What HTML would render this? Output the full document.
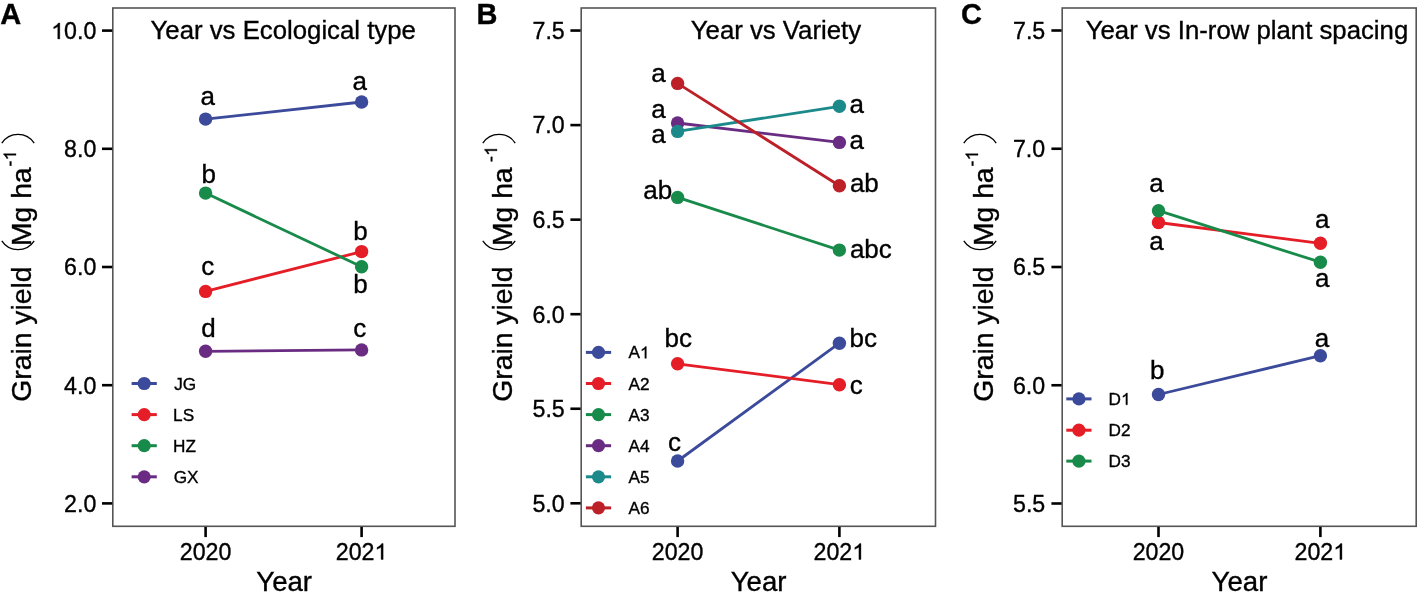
<!DOCTYPE html>
<html><head><meta charset="utf-8"><style>
html,body{margin:0;padding:0;background:#fff;overflow:hidden}
svg{display:block;will-change:transform}
text{stroke:#000;stroke-width:0.35px}
</style></head><body>
<svg width="1417" height="592" viewBox="0 0 1417 592">
<rect width="1417" height="592" fill="#fff"/>
<g font-family="Liberation Sans, sans-serif" fill="#000">
<text x="0.18" y="23.50" font-size="29.0" font-weight="bold">A</text>
<text x="476.56" y="23.50" font-size="29.0" font-weight="bold">B</text>
<text x="961.11" y="24.20" font-size="29.0" font-weight="bold">C</text>
<rect x="112.80" y="8.00" width="342.20" height="518.30" fill="none" stroke="#555" stroke-width="1.6"/>
<line x1="102.00" y1="30.60" x2="112.20" y2="30.60" stroke="#000" stroke-width="2.6"/>
<path transform="translate(51.15,38.90) scale(0.011328,-0.011328)" d="M763 0H583V1102Q518 1042 412 983Q307 924 223 894V1061Q374 1129 487 1226Q600 1323 647 1409H763Z" fill="#000" stroke="#000" stroke-width="30.9"/>
<text x="64.06" y="38.90" font-size="23.2">0.0</text>
<line x1="102.00" y1="148.80" x2="112.20" y2="148.80" stroke="#000" stroke-width="2.6"/>
<text x="64.06" y="157.10" font-size="23.2">8.0</text>
<line x1="102.00" y1="267.00" x2="112.20" y2="267.00" stroke="#000" stroke-width="2.6"/>
<text x="64.06" y="275.30" font-size="23.2">6.0</text>
<line x1="102.00" y1="385.20" x2="112.20" y2="385.20" stroke="#000" stroke-width="2.6"/>
<text x="64.06" y="393.50" font-size="23.2">4.0</text>
<line x1="102.00" y1="503.40" x2="112.20" y2="503.40" stroke="#000" stroke-width="2.6"/>
<text x="64.06" y="511.70" font-size="23.2">2.0</text>
<line x1="205.60" y1="526.90" x2="205.60" y2="537.10" stroke="#000" stroke-width="2.6"/>
<text x="179.79" y="559.50" font-size="23.2">2020</text>
<line x1="361.60" y1="526.90" x2="361.60" y2="537.10" stroke="#000" stroke-width="2.6"/>
<text x="335.79" y="559.50" font-size="23.2">202</text>
<path transform="translate(374.50,559.50) scale(0.011328,-0.011328)" d="M763 0H583V1102Q518 1042 412 983Q307 924 223 894V1061Q374 1129 487 1226Q600 1323 647 1409H763Z" fill="#000" stroke="#000" stroke-width="30.9"/>
<text x="256.28" y="591.20" font-size="27.6">Year</text>
<text x="150.57" y="38.90" font-size="25.75">Year vs Ecological type</text>
<g transform="translate(31.30,400.30) rotate(-90)">
<text x="-1.42" y="0" font-size="28.3">Grain yield</text>
<text x="154.28" y="0" font-size="28.3">Mg ha</text>
<text x="233.90" y="-15.30" font-size="18">-</text>
<path transform="translate(239.89,-15.30) scale(0.008789,-0.008789)" d="M763 0H583V1102Q518 1042 412 983Q307 924 223 894V1061Q374 1129 487 1226Q600 1323 647 1409H763Z" fill="#000" stroke="#000" stroke-width="39.8"/>
</g>
<path d="M1.80 240.80 A19.3 19.3 0 0 0 34.20 240.80" fill="none" stroke="#000" stroke-width="1.3"/>
<path d="M1.80 143.10 A19.3 19.3 0 0 1 34.20 143.10" fill="none" stroke="#000" stroke-width="1.3"/>
<line x1="205.6" y1="119.1" x2="361.6" y2="102.0" stroke="#3b4a9a" stroke-width="2.8"/>
<circle cx="205.6" cy="119.1" r="6.7" fill="#3b4a9a"/><circle cx="361.6" cy="102.0" r="6.7" fill="#3b4a9a"/>
<line x1="205.6" y1="291.4" x2="361.6" y2="251.6" stroke="#e41d26" stroke-width="2.8"/>
<circle cx="205.6" cy="291.4" r="6.7" fill="#e41d26"/><circle cx="361.6" cy="251.6" r="6.7" fill="#e41d26"/>
<line x1="205.6" y1="193.1" x2="361.6" y2="266.7" stroke="#188a4a" stroke-width="2.8"/>
<circle cx="205.6" cy="193.1" r="6.7" fill="#188a4a"/><circle cx="361.6" cy="266.7" r="6.7" fill="#188a4a"/>
<line x1="205.6" y1="351.3" x2="361.6" y2="349.9" stroke="#6a2c82" stroke-width="2.8"/>
<circle cx="205.6" cy="351.3" r="6.7" fill="#6a2c82"/><circle cx="361.6" cy="349.9" r="6.7" fill="#6a2c82"/>
<text x="200.52" y="104.60" font-size="26.0">a</text>
<text x="352.62" y="90.20" font-size="26.0">a</text>
<text x="201.38" y="182.50" font-size="26.0">b</text>
<text x="201.29" y="275.20" font-size="26.0">c</text>
<text x="353.18" y="239.50" font-size="26.0">b</text>
<text x="353.18" y="293.10" font-size="26.0">b</text>
<text x="201.16" y="337.00" font-size="26.0">d</text>
<text x="353.29" y="337.20" font-size="26.0">c</text>
<line x1="131.60" y1="383.50" x2="156.80" y2="383.50" stroke="#3b4a9a" stroke-width="3"/>
<circle cx="144.20" cy="383.50" r="6.6" fill="#3b4a9a"/>
<text x="174.23" y="389.50" font-size="17.2">JG</text>
<line x1="131.60" y1="414.60" x2="156.80" y2="414.60" stroke="#e41d26" stroke-width="3"/>
<circle cx="144.20" cy="414.60" r="6.6" fill="#e41d26"/>
<text x="173.09" y="420.60" font-size="17.2">LS</text>
<line x1="131.60" y1="445.70" x2="156.80" y2="445.70" stroke="#188a4a" stroke-width="3"/>
<circle cx="144.20" cy="445.70" r="6.6" fill="#188a4a"/>
<text x="173.09" y="451.62" font-size="17.2">HZ</text>
<line x1="131.60" y1="476.80" x2="156.80" y2="476.80" stroke="#6a2c82" stroke-width="3"/>
<circle cx="144.20" cy="476.80" r="6.6" fill="#6a2c82"/>
<text x="173.63" y="482.80" font-size="17.2">GX</text>
<rect x="581.20" y="8.00" width="354.30" height="518.30" fill="none" stroke="#555" stroke-width="1.6"/>
<line x1="570.40" y1="30.55" x2="580.60" y2="30.55" stroke="#000" stroke-width="2.6"/>
<text x="532.52" y="38.73" font-size="23.2">7.5</text>
<line x1="570.40" y1="125.10" x2="580.60" y2="125.10" stroke="#000" stroke-width="2.6"/>
<text x="532.46" y="133.40" font-size="23.2">7.0</text>
<line x1="570.40" y1="219.65" x2="580.60" y2="219.65" stroke="#000" stroke-width="2.6"/>
<text x="532.52" y="227.95" font-size="23.2">6.5</text>
<line x1="570.40" y1="314.20" x2="580.60" y2="314.20" stroke="#000" stroke-width="2.6"/>
<text x="532.46" y="322.50" font-size="23.2">6.0</text>
<line x1="570.40" y1="408.75" x2="580.60" y2="408.75" stroke="#000" stroke-width="2.6"/>
<text x="532.52" y="416.93" font-size="23.2">5.5</text>
<line x1="570.40" y1="503.30" x2="580.60" y2="503.30" stroke="#000" stroke-width="2.6"/>
<text x="532.46" y="511.60" font-size="23.2">5.0</text>
<line x1="677.60" y1="526.90" x2="677.60" y2="537.10" stroke="#000" stroke-width="2.6"/>
<text x="651.79" y="559.50" font-size="23.2">2020</text>
<line x1="839.40" y1="526.90" x2="839.40" y2="537.10" stroke="#000" stroke-width="2.6"/>
<text x="813.59" y="559.50" font-size="23.2">202</text>
<path transform="translate(852.30,559.50) scale(0.011328,-0.011328)" d="M763 0H583V1102Q518 1042 412 983Q307 924 223 894V1061Q374 1129 487 1226Q600 1323 647 1409H763Z" fill="#000" stroke="#000" stroke-width="30.9"/>
<text x="730.73" y="591.20" font-size="27.6">Year</text>
<text x="690.75" y="38.90" font-size="25.75">Year vs Variety</text>
<g transform="translate(512.30,400.30) rotate(-90)">
<text x="-1.42" y="0" font-size="28.3">Grain yield</text>
<text x="154.28" y="0" font-size="28.3">Mg ha</text>
<text x="238.40" y="-15.30" font-size="18">-</text>
<path transform="translate(244.39,-15.30) scale(0.008789,-0.008789)" d="M763 0H583V1102Q518 1042 412 983Q307 924 223 894V1061Q374 1129 487 1226Q600 1323 647 1409H763Z" fill="#000" stroke="#000" stroke-width="39.8"/>
</g>
<path d="M482.80 240.80 A19.3 19.3 0 0 0 515.20 240.80" fill="none" stroke="#000" stroke-width="1.3"/>
<path d="M482.80 143.10 A19.3 19.3 0 0 1 515.20 143.10" fill="none" stroke="#000" stroke-width="1.3"/>
<line x1="677.6" y1="461.0" x2="839.4" y2="343.2" stroke="#3b4a9a" stroke-width="2.8"/>
<circle cx="677.6" cy="461.0" r="6.7" fill="#3b4a9a"/><circle cx="839.4" cy="343.2" r="6.7" fill="#3b4a9a"/>
<line x1="677.6" y1="363.8" x2="839.4" y2="384.7" stroke="#e41d26" stroke-width="2.8"/>
<circle cx="677.6" cy="363.8" r="6.7" fill="#e41d26"/><circle cx="839.4" cy="384.7" r="6.7" fill="#e41d26"/>
<line x1="677.6" y1="197.4" x2="839.4" y2="250.1" stroke="#188a4a" stroke-width="2.8"/>
<circle cx="677.6" cy="197.4" r="6.7" fill="#188a4a"/><circle cx="839.4" cy="250.1" r="6.7" fill="#188a4a"/>
<line x1="677.6" y1="123.0" x2="839.4" y2="142.4" stroke="#6a2c82" stroke-width="2.8"/>
<circle cx="677.6" cy="123.0" r="6.7" fill="#6a2c82"/><circle cx="839.4" cy="142.4" r="6.7" fill="#6a2c82"/>
<line x1="677.6" y1="131.4" x2="839.4" y2="106.3" stroke="#1c8a8a" stroke-width="2.8"/>
<circle cx="677.6" cy="131.4" r="6.7" fill="#1c8a8a"/><circle cx="839.4" cy="106.3" r="6.7" fill="#1c8a8a"/>
<line x1="677.6" y1="83.4" x2="839.4" y2="185.7" stroke="#bc2128" stroke-width="2.8"/>
<circle cx="677.6" cy="83.4" r="6.7" fill="#bc2128"/><circle cx="839.4" cy="185.7" r="6.7" fill="#bc2128"/>
<text x="651.22" y="82.00" font-size="26.0">a</text>
<text x="651.22" y="117.60" font-size="26.0">a</text>
<text x="651.22" y="143.40" font-size="26.0">a</text>
<text x="643.33" y="198.50" font-size="26.0">ab</text>
<text x="664.57" y="346.70" font-size="26.0">bc</text>
<text x="668.09" y="450.80" font-size="26.0">c</text>
<text x="849.50" y="113.20" font-size="26.0">a</text>
<text x="849.50" y="148.70" font-size="26.0">a</text>
<text x="849.90" y="192.00" font-size="26.0">ab</text>
<text x="849.90" y="257.60" font-size="26.0">abc</text>
<text x="849.52" y="347.00" font-size="26.0">bc</text>
<text x="849.70" y="393.50" font-size="26.0">c</text>
<line x1="585.90" y1="352.40" x2="611.10" y2="352.40" stroke="#3b4a9a" stroke-width="3"/>
<circle cx="598.50" cy="352.40" r="6.6" fill="#3b4a9a"/>
<text x="628.47" y="358.32" font-size="17.2">A</text>
<path transform="translate(639.94,358.32) scale(0.008398,-0.008398)" d="M763 0H583V1102Q518 1042 412 983Q307 924 223 894V1061Q374 1129 487 1226Q600 1323 647 1409H763Z" fill="#000" stroke="#000" stroke-width="41.7"/>
<line x1="585.90" y1="383.50" x2="611.10" y2="383.50" stroke="#e41d26" stroke-width="3"/>
<circle cx="598.50" cy="383.50" r="6.6" fill="#e41d26"/>
<text x="628.47" y="389.50" font-size="17.2">A2</text>
<line x1="585.90" y1="414.60" x2="611.10" y2="414.60" stroke="#188a4a" stroke-width="3"/>
<circle cx="598.50" cy="414.60" r="6.6" fill="#188a4a"/>
<text x="628.47" y="420.60" font-size="17.2">A3</text>
<line x1="585.90" y1="445.70" x2="611.10" y2="445.70" stroke="#6a2c82" stroke-width="3"/>
<circle cx="598.50" cy="445.70" r="6.6" fill="#6a2c82"/>
<text x="628.47" y="451.62" font-size="17.2">A4</text>
<line x1="585.90" y1="476.80" x2="611.10" y2="476.80" stroke="#1c8a8a" stroke-width="3"/>
<circle cx="598.50" cy="476.80" r="6.6" fill="#1c8a8a"/>
<text x="628.47" y="482.72" font-size="17.2">A5</text>
<line x1="585.90" y1="507.90" x2="611.10" y2="507.90" stroke="#bc2128" stroke-width="3"/>
<circle cx="598.50" cy="507.90" r="6.6" fill="#bc2128"/>
<text x="628.47" y="513.90" font-size="17.2">A6</text>
<rect x="1062.20" y="8.00" width="354.00" height="518.30" fill="none" stroke="#555" stroke-width="1.6"/>
<line x1="1051.40" y1="30.50" x2="1061.60" y2="30.50" stroke="#000" stroke-width="2.6"/>
<text x="1013.02" y="38.68" font-size="23.2">7.5</text>
<line x1="1051.40" y1="148.75" x2="1061.60" y2="148.75" stroke="#000" stroke-width="2.6"/>
<text x="1012.96" y="157.05" font-size="23.2">7.0</text>
<line x1="1051.40" y1="267.00" x2="1061.60" y2="267.00" stroke="#000" stroke-width="2.6"/>
<text x="1013.02" y="275.30" font-size="23.2">6.5</text>
<line x1="1051.40" y1="385.25" x2="1061.60" y2="385.25" stroke="#000" stroke-width="2.6"/>
<text x="1012.96" y="393.55" font-size="23.2">6.0</text>
<line x1="1051.40" y1="503.50" x2="1061.60" y2="503.50" stroke="#000" stroke-width="2.6"/>
<text x="1013.02" y="511.68" font-size="23.2">5.5</text>
<line x1="1158.50" y1="526.90" x2="1158.50" y2="537.10" stroke="#000" stroke-width="2.6"/>
<text x="1132.69" y="559.50" font-size="23.2">2020</text>
<line x1="1320.40" y1="526.90" x2="1320.40" y2="537.10" stroke="#000" stroke-width="2.6"/>
<text x="1294.59" y="559.50" font-size="23.2">202</text>
<path transform="translate(1333.30,559.50) scale(0.011328,-0.011328)" d="M763 0H583V1102Q518 1042 412 983Q307 924 223 894V1061Q374 1129 487 1226Q600 1323 647 1409H763Z" fill="#000" stroke="#000" stroke-width="30.9"/>
<text x="1211.58" y="591.20" font-size="27.6">Year</text>
<text x="1085.70" y="38.90" font-size="25.75">Year vs In-row plant spacing</text>
<g transform="translate(993.30,400.30) rotate(-90)">
<text x="-1.42" y="0" font-size="28.3">Grain yield</text>
<text x="154.28" y="0" font-size="28.3">Mg ha</text>
<text x="233.90" y="-15.30" font-size="18">-</text>
<path transform="translate(239.89,-15.30) scale(0.008789,-0.008789)" d="M763 0H583V1102Q518 1042 412 983Q307 924 223 894V1061Q374 1129 487 1226Q600 1323 647 1409H763Z" fill="#000" stroke="#000" stroke-width="39.8"/>
</g>
<path d="M963.80 240.80 A19.3 19.3 0 0 0 996.20 240.80" fill="none" stroke="#000" stroke-width="1.3"/>
<path d="M963.80 143.10 A19.3 19.3 0 0 1 996.20 143.10" fill="none" stroke="#000" stroke-width="1.3"/>
<line x1="1158.5" y1="394.5" x2="1320.4" y2="355.7" stroke="#3b4a9a" stroke-width="2.8"/>
<circle cx="1158.5" cy="394.5" r="6.7" fill="#3b4a9a"/><circle cx="1320.4" cy="355.7" r="6.7" fill="#3b4a9a"/>
<line x1="1158.5" y1="222.5" x2="1320.4" y2="243.3" stroke="#e41d26" stroke-width="2.8"/>
<circle cx="1158.5" cy="222.5" r="6.7" fill="#e41d26"/><circle cx="1320.4" cy="243.3" r="6.7" fill="#e41d26"/>
<line x1="1158.5" y1="210.7" x2="1320.4" y2="262.2" stroke="#188a4a" stroke-width="2.8"/>
<circle cx="1158.5" cy="210.7" r="6.7" fill="#188a4a"/><circle cx="1320.4" cy="262.2" r="6.7" fill="#188a4a"/>
<text x="1149.32" y="192.20" font-size="26.0">a</text>
<text x="1149.32" y="249.70" font-size="26.0">a</text>
<text x="1315.02" y="227.60" font-size="26.0">a</text>
<text x="1315.02" y="287.20" font-size="26.0">a</text>
<text x="1150.08" y="379.30" font-size="26.0">b</text>
<text x="1314.72" y="346.70" font-size="26.0">a</text>
<line x1="1066.30" y1="398.90" x2="1091.50" y2="398.90" stroke="#3b4a9a" stroke-width="3"/>
<circle cx="1078.90" cy="398.90" r="6.6" fill="#3b4a9a"/>
<text x="1108.59" y="404.82" font-size="17.2">D</text>
<path transform="translate(1121.01,404.82) scale(0.008398,-0.008398)" d="M763 0H583V1102Q518 1042 412 983Q307 924 223 894V1061Q374 1129 487 1226Q600 1323 647 1409H763Z" fill="#000" stroke="#000" stroke-width="41.7"/>
<line x1="1066.30" y1="430.20" x2="1091.50" y2="430.20" stroke="#e41d26" stroke-width="3"/>
<circle cx="1078.90" cy="430.20" r="6.6" fill="#e41d26"/>
<text x="1108.59" y="436.20" font-size="17.2">D2</text>
<line x1="1066.30" y1="461.10" x2="1091.50" y2="461.10" stroke="#188a4a" stroke-width="3"/>
<circle cx="1078.90" cy="461.10" r="6.6" fill="#188a4a"/>
<text x="1108.59" y="467.10" font-size="17.2">D3</text>
</g>
</svg>
</body></html>
